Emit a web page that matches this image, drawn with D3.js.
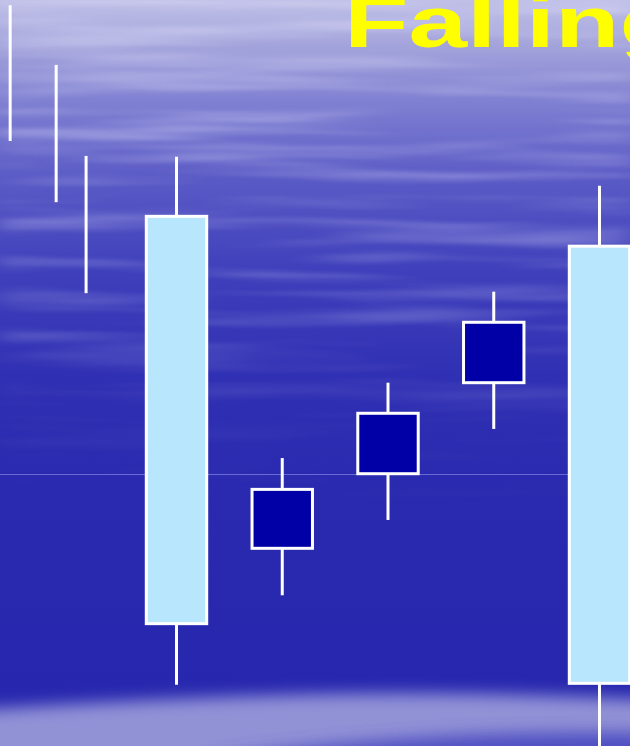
<!DOCTYPE html>
<html><head><meta charset="utf-8">
<script src="https://cdn.jsdelivr.net/npm/d3@7"></script>
<style>html,body{margin:0;padding:0;overflow:hidden;background:#2a2ab0}</style>
</head><body>
<script>
// ---- data ----
const titleText = "Falling";
const candleDays = [2, 3, 4, 5, 6];
const opens  = [16.4, 34.4, 44.6, 56.8, 8.4];
const closes = [71.0, 26.5, 36.5, 48.7, 67.0];
const highs  = [79.0, 38.6, 48.7, 60.9, 75.1];
const lows   = [8.2, 20.2, 30.3, 42.5, -5];
const lineDays  = [0.427, 0.862, 1.145];
const lineHighs = [99.3, 91.3, 79.1];
const lineLows  = [81.1, 72.9, 60.7];
const refLevels = [36.5];

const W = 630, H = 746;
const x = d3.scaleLinear().domain([2, 6]).range([176.5, 599.5]);
const y = d3.scaleLinear().domain([0, 100]).range([H, 0]);
const halfBody = 0.2857;

const svg = d3.select("body").append("svg").attr("width", W).attr("height", H);
const defs = svg.append("defs");

// background gradient
const g = defs.append("linearGradient").attr("id","bg").attr("x1",0).attr("y1",0).attr("x2",0).attr("y2",1);
[[0,"#c0c0e8"],[0.06,"#a4a4dc"],[0.14,"#7e7ed2"],[0.24,"#5a5ac6"],[0.36,"#4040bc"],[0.5,"#3030b4"],[0.65,"#2a2ab0"],[1,"#2626ae"]]
  .forEach(([o,c]) => g.append("stop").attr("offset",o).attr("stop-color",c));

// soft streak noise
const f = defs.append("filter").attr("id","streaks").attr("x",0).attr("y",0).attr("width","100%").attr("height","100%")
  .attr("filterUnits","userSpaceOnUse");
f.append("feTurbulence").attr("type","fractalNoise").attr("baseFrequency","0.003 0.055").attr("numOctaves",3).attr("seed",7).attr("result","n");
f.append("feColorMatrix").attr("in","n").attr("type","matrix")
  .attr("values","0 0 0 0 0.82  0 0 0 0 0.82  0 0 0 0 1  1.9 0 0 0 -0.85").attr("result","c");
f.append("feGaussianBlur").attr("in","c").attr("stdDeviation","12 1.6");

const mg = defs.append("linearGradient").attr("id","mg").attr("x1",0).attr("y1",0).attr("x2",0).attr("y2",1);
[[0,0.55],[0.2,0.5],[0.42,0.3],[0.58,0.06],[0.7,0]].forEach(([o,a]) =>
  mg.append("stop").attr("offset",o).attr("stop-color","#fff").attr("stop-opacity",a));
const mask = defs.append("mask").attr("id","m");
mask.append("rect").attr("width",W).attr("height",H).attr("fill","url(#mg)");

const blur = defs.append("filter").attr("id","glow").attr("x","-20%").attr("y","-200%").attr("width","140%").attr("height","500%");
blur.append("feGaussianBlur").attr("stdDeviation","20 8");

svg.append("rect").attr("width",W).attr("height",H).attr("fill","url(#bg)");
svg.append("rect").attr("width",W).attr("height",H).attr("filter","url(#streaks)").attr("mask","url(#m)");

// bottom light band
svg.append("path").attr("filter","url(#glow)").attr("fill","#a4a4de").attr("opacity",0.85)
  .attr("d", `M-60,712 C100,702 300,690 480,694 C580,696 660,700 720,704 L720,${H+40} L-60,${H+40} Z`);
svg.append("path").attr("filter","url(#glow)").attr("fill","#4444c0").attr("opacity",0.85)
  .attr("d", `M230,${H+10} C380,736 520,728 720,734 L720,${H+30} L230,${H+30} Z`);

// reference line
svg.selectAll(".ref").data(refLevels).join("line")
  .attr("x1",0).attr("x2",W).attr("y1",d=>Math.round(y(d))+0.5).attr("y2",d=>Math.round(y(d))+0.5)
  .attr("stroke","#6a6ad6").attr("stroke-width",1);

// wick-only lines
svg.selectAll(".ln").data(lineDays).join("line")
  .attr("x1",d=>x(d)).attr("x2",d=>x(d))
  .attr("y1",(d,i)=>y(lineHighs[i])).attr("y2",(d,i)=>y(lineLows[i]))
  .attr("stroke","#fff").attr("stroke-width",3);

// candles
const candles = candleDays.map((d,i)=>({d, o:opens[i], c:closes[i], h:highs[i], l:lows[i]}));
svg.selectAll(".wick").data(candles).join("line")
  .attr("x1",d=>x(d.d)).attr("x2",d=>x(d.d))
  .attr("y1",d=>y(d.h)).attr("y2",d=>y(d.l))
  .attr("stroke","#fff").attr("stroke-width",3);
svg.selectAll(".body").data(candles).join("rect")
  .attr("x",d=>x(d.d-halfBody)).attr("width",d=>x(d.d+halfBody)-x(d.d-halfBody))
  .attr("y",d=>y(Math.max(d.o,d.c))).attr("height",d=>Math.abs(y(d.o)-y(d.c)))
  .attr("fill",d=>d.c>=d.o ? "#b8e6fc" : "#0000a6")
  .attr("stroke","#fff").attr("stroke-width",3);

// title
svg.append("text").text(titleText)
  .attr("transform","translate(344,47) scale(1.465,1)")
  .attr("font-family","'Liberation Sans', Arial, sans-serif").attr("font-weight","bold")
  .attr("font-size",72).attr("fill","#ffff00");
</script>
</body></html>
